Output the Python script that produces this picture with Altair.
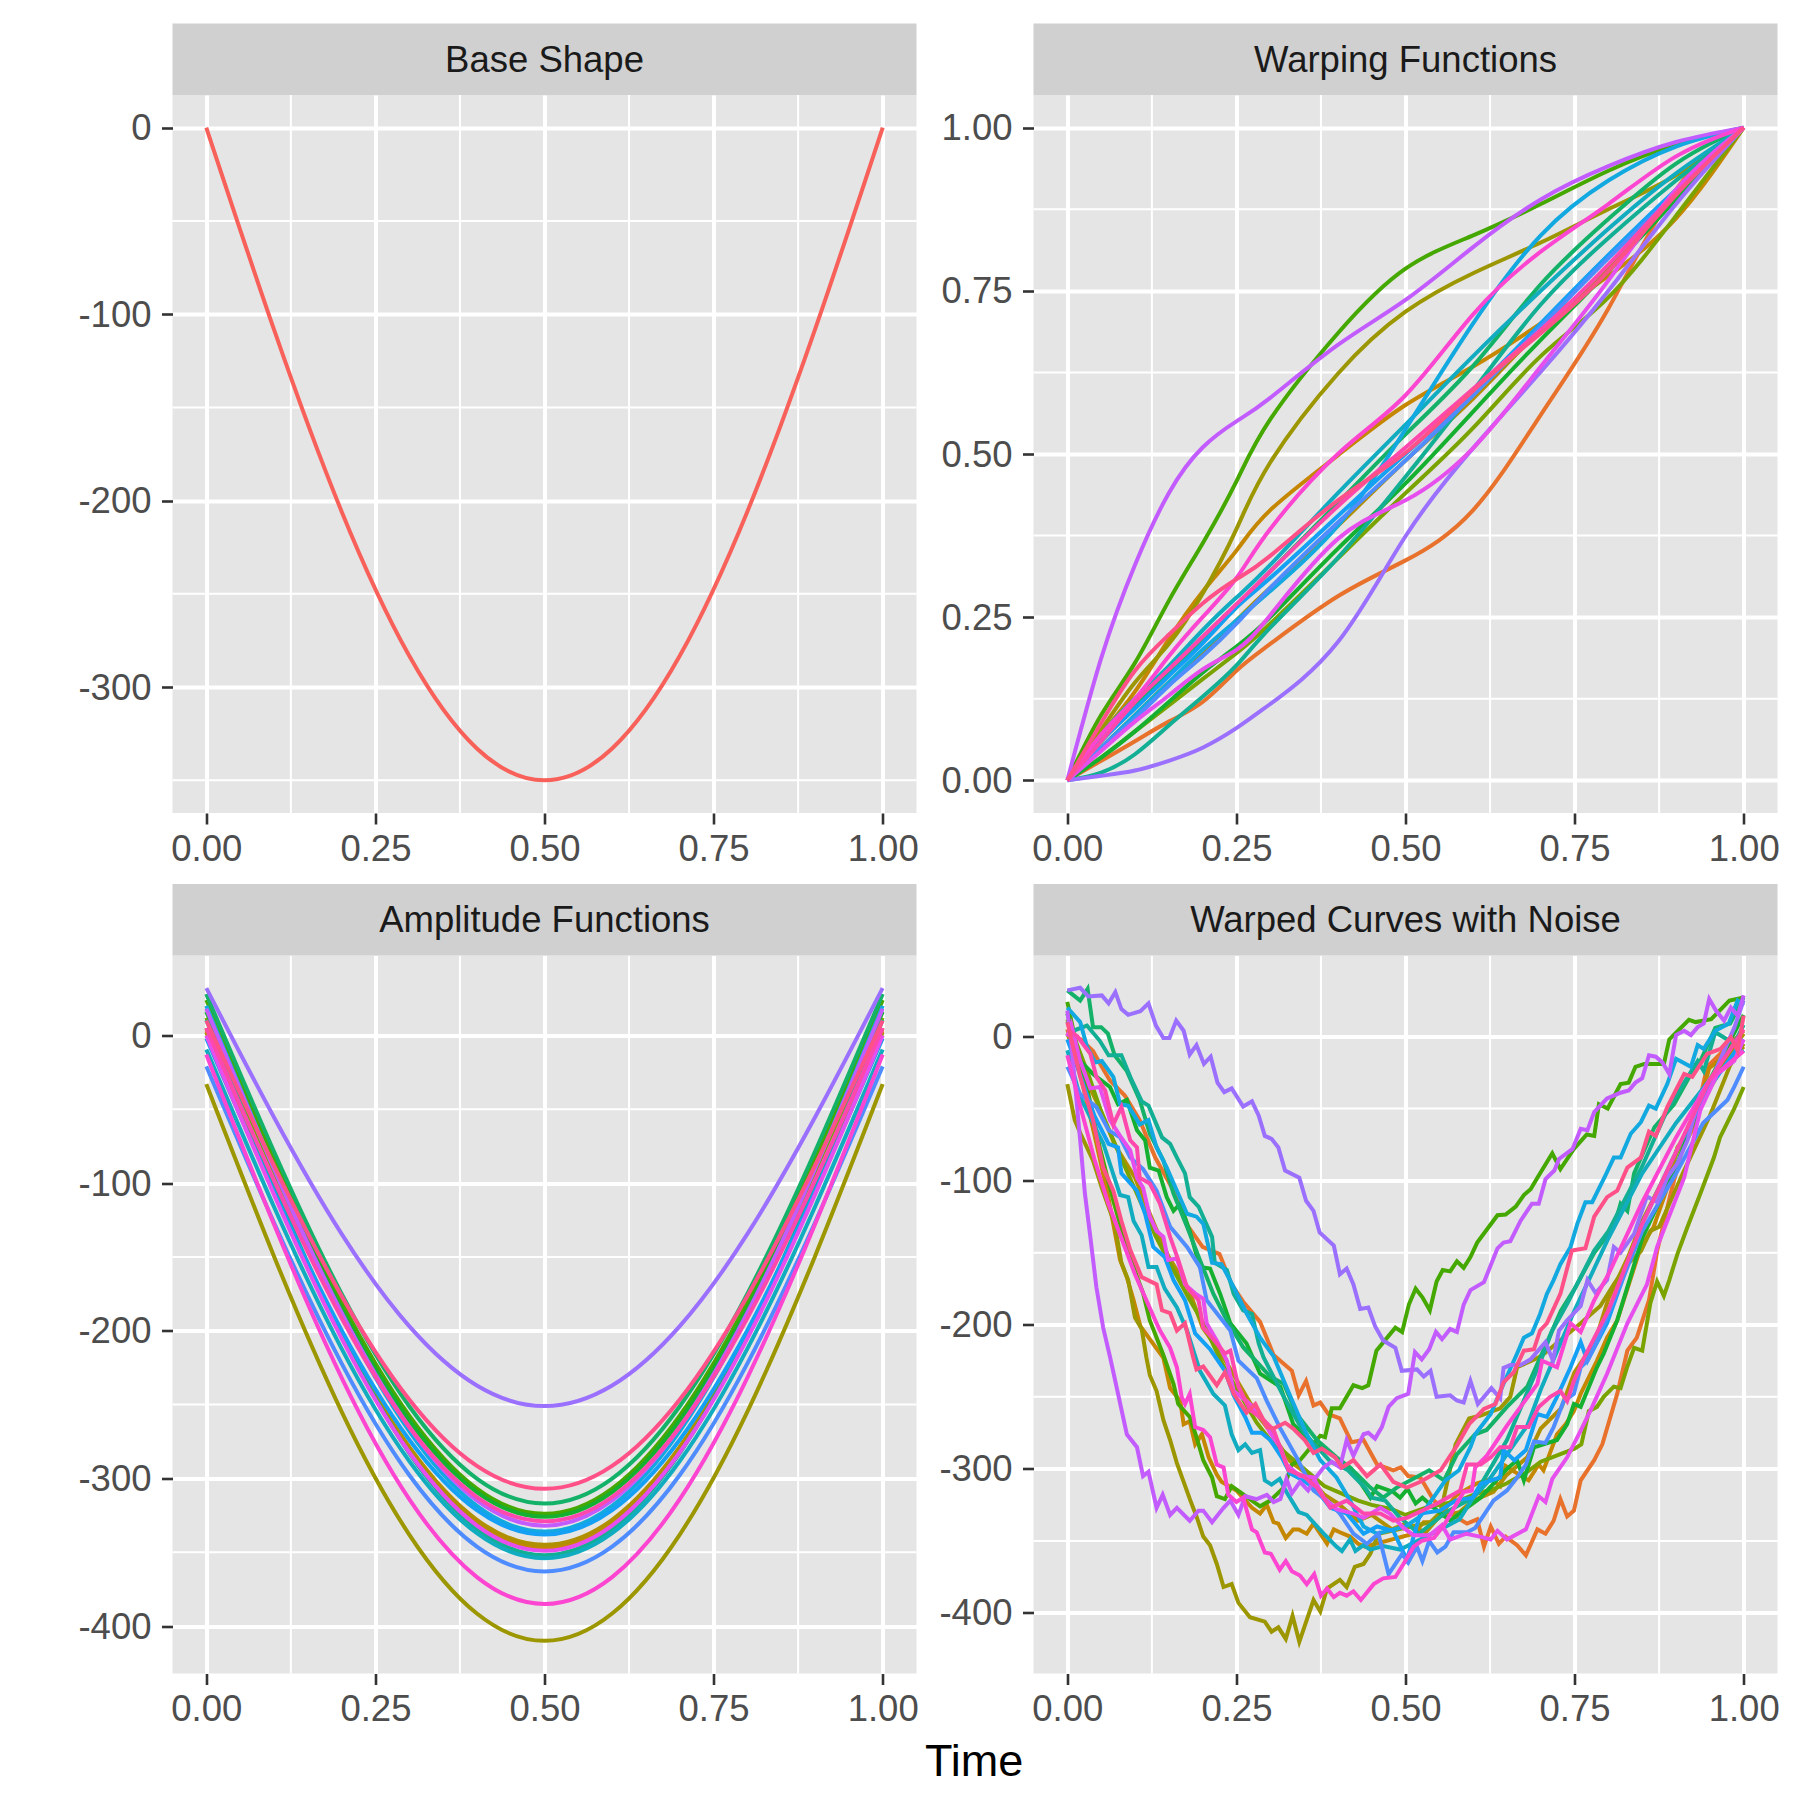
import altair as alt
import pandas as pd

names = ["c02","c03","c04","c05","c06","c07","c08","c09","c10","c11","c12","c13","c14","c15","c16","c17","c18","c19","c20"]
colors = ["#E8712B","#C58600","#B08F00","#9C9600","#7AA300","#45A800","#15B02F","#14B269","#12AF94","#12ACC0","#12A8E0","#14A0F5","#4F8CFF","#9B70FF","#C25CFF","#E64FEE","#FC45D0","#FF48AE","#FF5088"]

t_base = [0,.1,.2,.3,.4,.5,.6,.7,.8,.9,1]
base_shape = [0,-108.2,-205.8,-283.2,-332.9,-350,-332.9,-283.2,-205.8,-108.2,0]

t_amp = [0,.1,.2,.3,.4,.5,.6,.7,.8,.9,1]
amp = {
"c02":[3,-104.8,-202.2,-279.3,-328.9,-346,-328.9,-279.3,-202.2,-104.8,3],
"c03":[5,-103.8,-202,-279.8,-329.8,-347,-329.8,-279.8,-202,-103.8,5],
"c04":[2,-105.2,-202,-278.7,-328,-345,-328,-278.7,-202,-105.2,2],
"c05":[-33,-149.5,-254.7,-338,-391.5,-410,-391.5,-338,-254.7,-149.5,-33],
"c06":[12,-92.1,-186.2,-260.6,-308.5,-325,-308.5,-260.6,-186.2,-92.1,12],
"c07":[24,-83.5,-180.6,-257.5,-306.9,-324,-306.9,-257.5,-180.6,-83.5,24],
"c08":[16,-89.7,-185.1,-260.7,-309.2,-326,-309.2,-260.7,-185.1,-89.7,16],
"c09":[28,-78.6,-174.9,-251.1,-300.1,-317,-300.1,-251.1,-174.9,-78.6,28],
"c10":[10.5,-101.5,-202.7,-282.8,-334.2,-352,-334.2,-282.8,-202.7,-101.5,10.5],
"c11":[-9.5,-116,-212.1,-288.2,-337.1,-354,-337.1,-288.2,-212.1,-116,-9.5],
"c12":[20,-90,-189.3,-268,-318.6,-336,-318.6,-268,-189.3,-90,20],
"c13":[-2,-105.8,-199.6,-273.8,-321.5,-338,-321.5,-273.8,-199.6,-105.8,-2],
"c14":[-21,-126.7,-222.1,-297.7,-346.2,-363,-346.2,-297.7,-222.1,-126.7,-21],
"c15":[32,-55.4,-134.4,-196.9,-237.1,-251,-237.1,-196.9,-134.4,-55.4,32],
"c16":[18,-90.2,-187.8,-265.2,-314.9,-332,-314.9,-265.2,-187.8,-90.2,18],
"c17":[0,-107.8,-205.2,-282.3,-331.9,-349,-331.9,-282.3,-205.2,-107.8,0],
"c18":[-13,-127.9,-231.7,-314,-366.8,-385,-366.8,-314,-231.7,-127.9,-13],
"c19":[5,-98.2,-191.4,-265.2,-312.6,-329,-312.6,-265.2,-191.4,-98.2,5],
"c20":[10,-88,-176.4,-246.5,-291.5,-307,-291.5,-246.5,-176.4,-88,10],
}

t_warp = [0,.05,.1,.15,.2,.25,.3,.4,.5,.6,.7,.8,.9,1]
warp = {
"c02":[0,.03,.06,.09,.12,.168,.209,.282,.337,.414,.56,.723,.905,1],
"c03":[0,.07,.136,.216,.289,.352,.414,.498,.575,.634,.70,.773,.861,1],
"c04":[0,.05,.10,.15,.195,.245,.295,.39,.49,.585,.69,.785,.90,1],
"c05":[0,.077,.15,.209,.286,.385,.487,.623,.718,.777,.824,.875,.927,1],
"c06":[0,.035,.075,.115,.155,.195,.24,.34,.44,.54,.65,.74,.865,1],
"c07":[0,.10,.18,.275,.363,.458,.553,.685,.784,.835,.883,.934,.974,1],
"c08":[0,.035,.075,.12,.165,.205,.25,.355,.455,.565,.675,.78,.89,1],
"c09":[0,.06,.115,.165,.215,.265,.32,.425,.53,.635,.76,.86,.945,1],
"c10":[0,.012,.04,.084,.128,.176,.234,.341,.465,.597,.729,.831,.919,1],
"c11":[0,.07,.125,.175,.23,.28,.33,.44,.545,.65,.75,.845,.93,1],
"c12":[0,.05,.10,.15,.20,.245,.29,.39,.538,.70,.835,.919,.971,1],
"c13":[0,.06,.11,.16,.21,.265,.31,.405,.50,.595,.70,.805,.905,1],
"c14":[0,.05,.095,.145,.19,.24,.295,.395,.49,.59,.695,.80,.90,1],
"c15":[0,.007,.015,.03,.05,.08,.117,.212,.374,.509,.626,.75,.883,1],
"c16":[0,.187,.33,.44,.51,.55,.586,.667,.736,.817,.89,.941,.978,1],
"c17":[0,.045,.09,.13,.17,.20,.253,.37,.429,.509,.634,.766,.905,1],
"c18":[0,.07,.125,.19,.25,.31,.385,.50,.59,.714,.81,.883,.956,1],
"c19":[0,.06,.12,.17,.22,.27,.32,.42,.51,.60,.69,.79,.90,1],
"c20":[0,.088,.168,.223,.271,.308,.344,.429,.502,.597,.685,.78,.897,1],
}

noisy = {
"c02":[(0,3),(.02,-2),(.038,-10),(.051,-21),(.063,-30.5),(.085,-41),(.107,-58),(.13,-84),(.157,-107),(.176,-130),(.2,-146),(.225,-151),(.243,-172),(.26,-184),(.285,-198),(.305,-221),(.332,-232),(.342,-249),(.353,-239),(.364,-256),(.374,-254),(.386,-262),(.403,-265),(.42,-281.5),(.438,-280),(.458,-297),(.47,-299),(.482,-301),(.493,-299),(.504,-305),(.522,-306),(.542,-322),(.566,-331),(.591,-338),(.606,-335),(.616,-354),(.626,-340),(.638,-352),(.648,-347),(.665,-353),(.678,-360),(.695,-342),(.707,-345),(.719,-336),(.729,-321),(.739,-333),(.749,-329),(.759,-308),(.779,-294),(.791,-283),(.813,-248),(.828,-218),(.842,-209),(.86,-183),(.872,-149),(.892,-109),(.91,-77),(.926,-63),(.946,-21),(1,4)],
"c03":[(0,5),(.02,-28),(.04,-68),(.06,-110),(.078,-155),(.088,-167),(.098,-183),(.108,-201),(.142,-223),(.152,-244),(.167,-253),(.172,-269),(.181,-267),(.189,-283),(.199,-276),(.209,-292),(.221,-304),(.228,-309),(.25,-315),(.273,-327),(.285,-331),(.295,-325),(.305,-337),(.312,-338),(.323,-348),(.334,-342),(.342,-342),(.354,-345),(.364,-338),(.384,-352),(.394,-342),(.403,-344),(.418,-347),(.43,-352),(.44,-354),(.512,-345),(.527,-337),(.542,-337),(.576,-318),(.606,-310),(.626,-307),(.64,-312),(.648,-298),(.668,-304),(.682,-308),(.697,-297),(.704,-301),(.724,-276),(.737,-269),(.749,-260),(.759,-248),(.783,-225),(.798,-209),(.813,-197),(.848,-146),(.867,-132),(.887,-105),(.902,-77),(.926,-61),(.949,-22),(.976,-12),(.986,-14),(1,-7)],
"c04":[(0,2),(.02,-22),(.05,-52),(.07,-75),(.1,-98),(.13,-132),(.15,-153),(.18,-176),(.2,-202),(.23,-222),(.25,-238),(.28,-262),(.3,-274),(.33,-295),(.35,-302),(.38,-318),(.4,-324),(.43,-336),(.45,-332),(.48,-342),(.5,-338),(.53,-344),(.55,-333),(.58,-330),(.6,-322),(.63,-316),(.65,-304),(.68,-292),(.7,-272),(.73,-258),(.75,-233),(.78,-212),(.8,-182),(.83,-152),(.85,-128),(.88,-100),(.9,-82),(.93,-50),(.95,-36),(.98,-12),(1,2)],
"c05":[(0,-33),(.011,-58),(.021,-69),(.038,-86),(.051,-105),(.063,-121),(.07,-130),(.08,-157),(.09,-169),(.1,-195),(.11,-203),(.117,-223),(.122,-235),(.132,-246),(.142,-266),(.152,-280),(.162,-296),(.172,-309),(.182,-322),(.191,-333),(.201,-347),(.211,-353),(.221,-366),(.231,-382),(.243,-380),(.253,-393),(.27,-403),(.292,-406),(.302,-413),(.312,-410),(.323,-418),(.333,-402),(.343,-420),(.364,-391),(.374,-399),(.384,-383),(.403,-377),(.413,-382),(.425,-368),(.438,-366),(.448,-359),(.46,-345),(.49,-342),(.537,-337),(.552,-330),(.574,-283),(.594,-265),(.611,-263),(.64,-258),(.655,-250),(.665,-229.5),(.7,-222),(.759,-199),(.788,-187),(.808,-172),(.828,-158),(.848,-149),(.862,-135),(.875,-132),(.91,-95),(.95,-55),(.98,-20),(1,-5)],
"c06":[(0,12),(.03,-25),(.05,-52),(.08,-85),(.1,-106),(.13,-138),(.15,-156),(.18,-182),(.2,-198),(.23,-228),(.25,-244),(.28,-268),(.3,-280),(.33,-292),(.35,-300),(.38,-312),(.4,-316),(.43,-322),(.45,-325),(.48,-328),(.5,-332),(.53,-327),(.55,-325),(.58,-322),(.6,-318),(.63,-314),(.65,-310),(.68,-302),(.7,-295),(.75,-286),(.76,-283),(.771,-260),(.783,-257),(.793,-250),(.808,-243),(.818,-244),(.828,-229),(.838,-216),(.85,-218),(.862,-185),(.872,-170),(.882,-180),(.89,-169),(.902,-151),(.917,-132),(.936,-109),(.956,-84),(.965,-70),(.986,-50),(1,-35)],
"c07":[(0,24),(.014,-7),(.029,-35),(.048,-77),(.068,-114),(.09,-150),(.112,-178),(.122,-197),(.142,-221),(.157,-241),(.164,-255),(.181,-264),(.191,-278),(.201,-294),(.214,-306),(.221,-319),(.233,-321),(.243,-312),(.255,-316),(.273,-322),(.285,-326),(.3,-322),(.32,-313),(.332,-297),(.344,-294),(.374,-277),(.381,-278),(.391,-258),(.403,-258),(.423,-242),(.436,-244),(.445,-242),(.457,-218),(.485,-202),(.495,-205),(.505,-186),(.515,-175),(.525,-181),(.536,-190),(.546,-170),(.555,-162),(.566,-163),(.576,-156),(.586,-160.5),(.596,-153),(.606,-143),(.636,-124),(.648,-123.5),(.663,-118),(.675,-110),(.685,-106),(.695,-98),(.717,-81),(.729,-92),(.749,-78),(.768,-68),(.779,-69),(.786,-47),(.799,-50),(.818,-33),(.83,-32),(.84,-21),(.853,-19),(.882,-19),(.89,-2),(.919,11.6),(.929,10),(.952,12),(.979,25),(1,27)],
"c08":[(0,16),(.019,-17),(.038,-26),(.063,-35),(.075,-47),(.088,-44),(.103,-65),(.115,-72),(.122,-91),(.135,-93),(.147,-111.5),(.157,-121),(.167,-116),(.181,-135),(.196,-160),(.211,-161),(.226,-178.6),(.241,-199),(.265,-213),(.285,-234),(.315,-243),(.334,-269),(.36,-281),(.39,-290),(.42,-300),(.448,-320),(.458,-312),(.482,-316),(.492,-320),(.503,-314),(.515,-324),(.525,-320),(.542,-327),(.566,-336),(.591,-327),(.611,-320),(.65,-300),(.665,-294),(.675,-308),(.69,-285),(.724,-280),(.739,-269),(.749,-255),(.759,-257),(.783,-229.5),(.793,-220),(.813,-197),(.85,-140),(.9,-90),(.95,-30),(1,15)],
"c09":[(0,32),(.019,25),(.03,33),(.038,6.5),(.05,6.5),(.06,2),(.07,-13),(.088,-24),(.107,-44),(.122,-67.5),(.142,-86),(.157,-109),(.177,-132),(.196,-155),(.216,-178.6),(.236,-197),(.26,-215.6),(.3,-236),(.32,-241),(.339,-262),(.369,-280),(.398,-292),(.418,-299),(.448,-313),(.467,-320),(.487,-313),(.535,-301),(.557,-308),(.576,-290),(.603,-276),(.62,-273),(.65,-257),(.68,-243),(.73,-190),(.75,-175),(.779,-150),(.808,-132),(.818,-116),(.828,-121),(.838,-95),(.868,-63),(.897,-47),(.922,-26),(.936,-17),(.958,6),(.98,9),(1,27)],
"c10":[(0,10.5),(.009,4),(.029,7.6),(.048,-3),(.061,-13),(.08,-13),(.093,-28),(.11,-45),(.12,-48),(.14,-70),(.152,-74.5),(.162,-84),(.174,-95),(.181,-111.5),(.194,-118),(.214,-139),(.218,-157),(.236,-162),(.246,-178.6),(.26,-190),(.273,-192.5),(.283,-213),(.29,-222.5),(.32,-250),(.35,-275),(.389,-295),(.415,-301),(.44,-313),(.45,-320),(.47,-322),(.49,-333),(.52,-345),(.56,-330),(.6,-320),(.65,-280),(.7,-225),(.717,-204),(.739,-185.5),(.779,-148.5),(.8,-135),(.85,-90),(.887,-51),(.912,-32),(.932,-17),(.941,-24),(.958,3),(.986,-5),(1,8)],
"c11":[(0,-9.5),(.019,-42),(.053,-74),(.078,-110),(.09,-111.5),(.098,-128),(.11,-138),(.12,-160),(.132,-160),(.144,-175),(.162,-188),(.177,-204),(.196,-232),(.216,-248),(.233,-256),(.243,-276),(.253,-287),(.263,-283),(.273,-289),(.285,-287),(.292,-308),(.302,-311),(.314,-307),(.324,-316),(.342,-330),(.354,-332),(.379,-345),(.398,-354),(.406,-357),(.418,-349),(.426,-357),(.438,-353),(.448,-356),(.467,-353.5),(.492,-356),(.56,-340),(.58,-335),(.6,-320),(.62,-310),(.65,-290),(.68,-270),(.7,-245),(.75,-190),(.8,-140),(.85,-95),(.9,-60),(.95,-30),(1,-9.5)],
"c12":[(0,20),(.019,10),(.029,-7),(.041,-18),(.051,-17),(.068,-28),(.078,-47),(.09,-48),(.107,-61),(.12,-58),(.132,-77),(.147,-91),(.162,-107),(.177,-123),(.191,-125),(.201,-130),(.214,-157),(.228,-158),(.246,-174),(.265,-192),(.285,-209),(.305,-222),(.33,-250),(.354,-276),(.374,-294),(.398,-306),(.418,-322),(.438,-340),(.458,-345),(.5,-340),(.522,-333),(.559,-308),(.579,-301),(.596,-285),(.603,-276),(.626,-262),(.645,-241),(.665,-220),(.675,-209),(.687,-206),(.699,-192.5),(.709,-178.6),(.719,-169),(.729,-158),(.744,-146),(.754,-130),(.766,-115),(.776,-115),(.794,-98),(.808,-84),(.818,-84),(.833,-67.5),(.848,-59.5),(.86,-48),(.87,-50),(.887,-33),(.9,-15.5),(.922,-21),(.932,-6),(.941,-8.6),(.958,4),(.978,9),(.991,25),(1,21.5)],
"c13":[(0,-2),(.02,-28),(.04,-55),(.061,-74.5),(.075,-77),(.08,-95),(.103,-107),(.115,-123),(.127,-146),(.144,-153),(.157,-169),(.174,-183),(.189,-206),(.211,-217),(.233,-232),(.246,-249),(.263,-264),(.273,-275),(.287,-275),(.3,-280),(.317,-292),(.329,-303),(.349,-308),(.369,-315),(.389,-327),(.413,-331),(.438,-345),(.458,-340),(.482,-343),(.502,-363),(.522,-331),(.551,-329),(.574,-322),(.599,-320),(.611,-310.5),(.64,-306),(.645,-287),(.661,-294),(.678,-287),(.695,-262),(.709,-264),(.724,-250),(.744,-229.5),(.759,-212),(.769,-225),(.798,-199),(.85,-130),(.9,-80),(.95,-35),(1,-2)],
"c14":[(0,-21),(.019,-40),(.043,-49),(.061,-65),(.078,-70),(.093,-84),(.112,-92),(.132,-107),(.152,-132),(.177,-146),(.196,-160),(.206,-183),(.226,-195),(.241,-204),(.253,-225),(.28,-237),(.295,-253),(.315,-272),(.339,-292),(.364,-315),(.389,-324),(.403,-331),(.423,-345),(.443,-352),(.46,-345),(.475,-373),(.495,-359),(.504,-365),(.517,-354),(.525,-364),(.535,-350),(.547,-358),(.559,-354),(.571,-344),(.591,-344),(.603,-341),(.616,-332),(.63,-322),(.65,-315),(.665,-306),(.678,-297),(.69,-281),(.707,-282),(.719,-271),(.734,-253),(.749,-248),(.759,-229.5),(.769,-225),(.788,-206),(.85,-135),(.9,-95),(.94,-60),(.976,-44),(.986,-35),(1,-21)],
"c15":[(0,32),(.019,33.8),(.031,27.8),(.051,28.5),(.061,23),(.071,30.8),(.08,19),(.09,15),(.108,17.6),(.12,23),(.131,7.6),(.142,-1),(.151,-1),(.161,11),(.172,4),(.181,-12.5),(.191,-6),(.202,-19),(.212,-14),(.222,-32),(.232,-38.6),(.243,-36),(.26,-48.6),(.273,-45),(.283,-55),(.292,-69),(.302,-71),(.312,-77),(.322,-93),(.343,-98),(.353,-114),(.364,-121),(.373,-136),(.394,-145),(.403,-165),(.413,-161),(.423,-172),(.433,-189),(.445,-188),(.455,-201),(.467,-211),(.485,-216),(.4945,-232),(.517,-231),(.527,-236),(.537,-232),(.546,-250),(.566,-249),(.576,-252.6),(.586,-254),(.596,-239),(.607,-255),(.627,-244),(.64,-251),(.645,-230),(.655,-228),(.67,-228),(.685,-224),(.707,-212),(.718,-225),(.727,-204),(.739,-197),(.759,-187),(.769,-169),(.781,-178),(.798,-169),(.808,-146),(.818,-150),(.838,-137),(.857,-111),(.872,-115),(.887,-98),(.902,-88),(.917,-72),(.936,-40),(.956,-26),(.986,6),(1,25)],
"c16":[(0,18),(.006,-5),(.019,-72),(.026,-109),(.034,-139),(.043,-174),(.053,-202),(.063,-222),(.088,-276),(.103,-285),(.112,-305),(.12,-302),(.132,-327),(.141,-318),(.152,-332),(.162,-327),(.181,-336),(.194,-329),(.201,-329),(.214,-337),(.231,-327),(.241,-322),(.253,-332),(.263,-319),(.28,-321),(.295,-318),(.305,-323),(.315,-321),(.324,-307),(.332,-317),(.344,-309),(.356,-315),(.369,-305),(.379,-299),(.391,-295),(.403,-299),(.413,-280),(.423,-291),(.438,-276),(.445,-275),(.455,-279),(.465,-271),(.475,-257),(.487,-251),(.504,-248),(.514,-219),(.524,-224),(.535,-217),(.545,-205),(.554,-210),(.566,-203),(.576,-205),(.586,-186),(.596,-176),(.616,-170.5),(.636,-147),(.645,-143),(.655,-142),(.67,-128),(.687,-116),(.697,-116),(.707,-99),(.72,-93),(.727,-85),(.747,-78),(.759,-64),(.769,-65),(.779,-52.5),(.798,-43),(.818,-39),(.83,-37.5),(.84,-32),(.85,-29),(.86,-13),(.87,-14),(.88,-18),(.89,-26),(.9,1),(.912,4),(.922,1),(.932,6.5),(.941,9),(.949,26),(.959,18),(.971,11),(.981,20),(.991,14.5),(1,28.5)],
"c17":[(0,0),(.006,8),(.019,-17),(.034,-36),(.048,-35),(.063,-58),(.078,-69),(.093,-79),(.103,-98),(.112,-105),(.122,-125),(.132,-135),(.142,-139),(.149,-155),(.162,-154),(.174,-172),(.191,-179),(.201,-182),(.206,-199),(.221,-211),(.236,-225),(.246,-246),(.265,-253),(.285,-262),(.3,-275),(.315,-285),(.324,-297),(.344,-305),(.364,-306),(.379,-320),(.398,-328),(.423,-331),(.438,-334),(.463,-327),(.477,-331),(.497,-341),(.512,-346),(.536,-346),(.554,-339),(.566,-349),(.59,-345),(.61,-347),(.626,-349),(.636,-343),(.65,-349),(.678,-342),(.697,-319),(.707,-323),(.717,-307),(.739,-292),(.759,-273.5),(.776,-257),(.798,-234),(.828,-199),(.842,-186),(.857,-172),(.872,-146),(.912,-98),(.936,-51),(.961,-26),(.986,-17),(1,-2)],
"c18":[(0,-13),(.02,-50),(.04,-85),(.06,-115),(.08,-140),(.1,-165),(.13,-197),(.137,-204),(.152,-216),(.162,-229.5),(.169,-250),(.174,-255),(.181,-248),(.189,-271),(.201,-273),(.211,-278),(.221,-297),(.231,-299),(.238,-318),(.25,-323),(.26,-320),(.273,-342),(.28,-344),(.292,-358),(.301,-359),(.314,-370),(.323,-364),(.332,-371),(.344,-374),(.354,-380),(.365,-373),(.375,-388),(.384,-383),(.394,-389),(.403,-386),(.413,-388),(.423,-385),(.434,-391),(.453,-380),(.467,-376),(.485,-375),(.497,-366),(.512,-354),(.524,-350),(.542,-348),(.557,-339),(.586,-316),(.598,-315),(.603,-299),(.62,-291),(.65,-270),(.695,-241),(.702,-225),(.724,-229.5),(.744,-199),(.759,-205),(.779,-183),(.8,-165),(.85,-115),(.9,-70),(.95,-30),(1,-10)],
"c19":[(0,5),(.015,0),(.034,-12),(.043,-28),(.056,-37.5),(.068,-61),(.08,-49),(.093,-72),(.103,-77),(.107,-98),(.122,-102),(.137,-116),(.152,-139),(.164,-155),(.177,-174),(.194,-183),(.201,-202),(.214,-209),(.233,-220),(.241,-218),(.253,-243),(.27,-259),(.29,-266),(.305,-273),(.32,-292),(.327,-301),(.349,-305),(.369,-313),(.389,-327),(.413,-322),(.438,-331),(.463,-331),(.482,-336),(.502,-334),(.547,-324),(.581,-315),(.591,-297),(.611,-297),(.626,-292),(.64,-285),(.655,-285),(.665,-271),(.682,-271),(.697,-257),(.714,-250),(.729,-246),(.739,-253),(.749,-239),(.764,-223),(.8,-190),(.85,-130),(.9,-80),(.95,-30),(1,5)],
"c20":[(0,10),(.019,-28),(.038,-58),(.053,-91),(.068,-107),(.08,-128),(.093,-148),(.11,-167),(.132,-172),(.14,-190),(.152,-192),(.162,-204),(.174,-199),(.186,-222.5),(.191,-231),(.201,-229),(.221,-242),(.233,-233),(.246,-248),(.265,-261),(.278,-255),(.295,-271),(.305,-272),(.322,-268),(.334,-272),(.351,-280),(.364,-289),(.376,-286),(.396,-292),(.406,-299),(.423,-294),(.443,-305),(.463,-297),(.482,-309),(.502,-313),(.522,-309),(.552,-301),(.566,-291),(.576,-284),(.594,-269),(.616,-258.5),(.633,-255),(.645,-240),(.66,-233),(.675,-218),(.69,-217),(.699,-204),(.709,-199),(.729,-178.6),(.746,-148.5),(.766,-147),(.779,-125),(.798,-111.5),(.813,-107),(.828,-91),(.848,-84),(.86,-66),(.87,-69),(.887,-49),(.912,-26),(.924,-28),(.946,-12),(.966,-8.6),(.981,-0.5),(.991,-10),(1,14.5)],
}

x_major = [0,.25,.5,.75,1]
x_minor = [.125,.375,.625,.875]
PANEL_W, PANEL_H, STRIP_H = 744, 718, 71.5
FONT = "Liberation Sans"

def panel(title, df, ydom, ymajor, yminor, yfmt, smooth, domain, rng):
    xs = alt.Scale(domain=[-.05,1.05], nice=False, zero=False)
    ys = alt.Scale(domain=ydom, nice=False, zero=False)
    xaxis = alt.Axis(values=x_major, format=".2f", title=None, domain=False, grid=True, gridColor="white", gridWidth=4,
                     tickColor="#333333", tickWidth=2.6, tickSize=11, labelFont=FONT, labelFontSize=36.5,
                     labelColor="#4D4D4D", labelPadding=7, labelFlush=False, labelOverlap=False)
    yaxis = alt.Axis(values=ymajor, title=None, domain=False, grid=True, gridColor="white", gridWidth=4,
                     tickColor="#333333", tickWidth=2.6, tickSize=11, labelFont=FONT, labelFontSize=36.5,
                     labelColor="#4D4D4D", labelPadding=10.5, labelOffset=1, labelExpr=yfmt, labelOverlap=False)
    one = pd.DataFrame({"s":[title]})
    band = alt.Chart(one).mark_rect(color="#D0D0D0", clip=False).encode(
        x=alt.value(0), x2=alt.value(PANEL_W), y=alt.value(-STRIP_H), y2=alt.value(0))
    label = alt.Chart(one).mark_text(font=FONT, fontSize=36.5, color="#1A1A1A", baseline="middle", align="center", clip=False).encode(
        text="s:N", x=alt.value(PANEL_W/2), y=alt.value(-STRIP_H/2+1.5))
    vmin = alt.Chart(pd.DataFrame({"x":x_minor})).mark_rule(color="white", strokeWidth=2).encode(
        x=alt.X("x:Q", scale=xs, axis=xaxis))
    hmin = alt.Chart(pd.DataFrame({"y":yminor})).mark_rule(color="white", strokeWidth=2).encode(
        y=alt.Y("y:Q", scale=ys, axis=yaxis))
    kw = dict(strokeWidth=4, clip=True)
    if smooth:
        kw["interpolate"] = "natural"
    lines = alt.Chart(df).mark_line(**kw).encode(
        x=alt.X("t:Q", scale=xs, axis=xaxis),
        y=alt.Y("v:Q", scale=ys, axis=yaxis),
        color=alt.Color("s:N", scale=alt.Scale(domain=domain, range=rng), legend=None),
        order=alt.Order("i:Q"))
    return alt.layer(vmin, hmin, lines, band, label).properties(
        width=PANEL_W, height=PANEL_H, view=alt.ViewConfig(fill="#E5E5E5", stroke=None))

def frame(grid, vals_by):
    rows = []
    for n in vals_by:
        for i, (a, b) in enumerate(zip(grid, vals_by[n])):
            rows.append({"t": a, "v": b, "s": n, "i": i})
    return pd.DataFrame(rows)

df_base = frame(t_base, {"base": base_shape})
df_warp = frame(t_warp, warp)
df_amp = frame(t_amp, amp)
rows = []
for n in names:
    for i, (a, b) in enumerate(noisy[n]):
        rows.append({"t": a, "v": b, "s": n, "i": i})
df_noisy = pd.DataFrame(rows)

INT = "datum.value + ''"
FIX = "format(datum.value, '.2f')"
p1 = panel("Base Shape", df_base, [-367.5,17.5], [0,-100,-200,-300], [-50,-150,-250,-350], INT, True, ["base"], ["#F8605A"])
p2 = panel("Warping Functions", df_warp, [-.05,1.05], [0,.25,.5,.75,1], [.125,.375,.625,.875], FIX, True, names, colors)
p3 = panel("Amplitude Functions", df_amp, [-432.1,54.1], [0,-100,-200,-300,-400], [-50,-150,-250,-350], INT, True, names, colors)
p4 = panel("Warped Curves with Noise", df_noisy, [-442,56.2], [0,-100,-200,-300,-400], [-50,-150,-250,-350], INT, False, names, colors)

chart = alt.concat(p1, p2, p3, p4, columns=2, spacing={"column":117,"row":142.5}, bounds="flush").resolve_scale(
    color="independent", x="independent", y="independent").properties(
    padding={"left": 69.5, "top": 15, "right": 5, "bottom": 5},
    title=alt.TitleParams("Time", orient="bottom", anchor="middle", fontSize=45, fontWeight="normal",
                          font=FONT, color="black", offset=12, dx=45.5)
).configure_view(stroke=None)
chart.save("out.html", embed_options={"renderer": "svg", "actions": False})
